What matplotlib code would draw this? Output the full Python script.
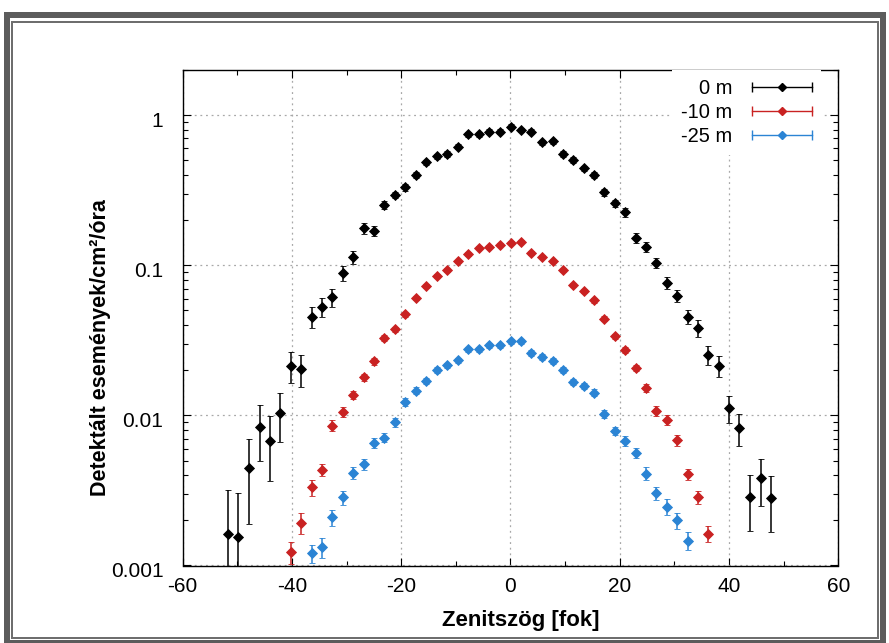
import matplotlib
matplotlib.use("Agg")
import matplotlib.pyplot as plt
import matplotlib.transforms as mtransforms
from matplotlib.lines import Line2D
from matplotlib.legend_handler import HandlerBase
from matplotlib.patches import Rectangle
from matplotlib.ticker import FixedLocator, FixedFormatter, LogLocator, NullFormatter

plt.rcParams['font.family'] = ['Liberation Sans', 'DejaVu Sans']

# Zenith-angle bin centres [deg], shared by the three depths
angle = [-51.7, -49.8, -47.9, -45.9, -44.0, -42.1, -40.2, -38.3, -36.4, -34.5,
         -32.6, -30.7, -28.8, -26.9, -25.0, -23.1, -21.2, -19.3, -17.3, -15.4,
         -13.5, -11.6, -9.7, -7.8, -5.8, -3.9, -2.0, 0.1, 1.9, 3.8,
         5.7, 7.7, 9.6, 11.5, 13.4, 15.3, 17.2, 19.1, 21.0, 22.9,
         24.8, 26.7, 28.6, 30.5, 32.4, 34.3, 36.2, 38.1, 40.0, 41.9,
         43.8, 45.8, 47.7]

# 0 m (surface)
rate_0m = [0.00162, 0.00154, 0.00445, 0.0084, 0.00675, 0.0104, 0.0214, 0.0204, 0.0452, 0.0527,
           0.0614, 0.0886, 0.113, 0.176, 0.170, 0.253, 0.295, 0.330, 0.399, 0.484,
           0.531, 0.551, 0.616, 0.748, 0.748, 0.775, 0.775, 0.840, 0.795, 0.778,
           0.658, 0.668, 0.551, 0.502, 0.442, 0.399, 0.306, 0.259, 0.225, 0.152,
           0.133, 0.104, 0.0765, 0.0624, 0.0455, 0.0382, 0.0253, 0.0214, 0.0112, 0.00828,
           0.00285, 0.00381, 0.00281]
err_0m = [0.00157, 0.00152, 0.00255, 0.0034, 0.0031, 0.0037, 0.0050, 0.0050, 0.0072, 0.0078,
          0.0085, 0.0105, 0.011, 0.015, 0.013, 0.015, 0.015, 0.016, 0.018, 0.020,
          0.021, 0.022, 0.024, 0.027, 0.027, 0.028, 0.028, 0.029, 0.028, 0.028,
          0.025, 0.025, 0.022, 0.021, 0.019, 0.018, 0.016, 0.015, 0.014, 0.012,
          0.011, 0.0085, 0.0068, 0.0056, 0.0046, 0.0049, 0.0035, 0.0034, 0.0023, 0.0020,
          0.00116, 0.00130, 0.00115]

# -10 m (bins 6..46)
angle_10m = angle[6:47]
rate_10m = [0.00123, 0.00193, 0.00332, 0.00433, 0.00855, 0.0105, 0.0137, 0.0179, 0.0230, 0.0328,
            0.0374, 0.0472, 0.0605, 0.0727, 0.0847, 0.0934, 0.106, 0.119, 0.131, 0.133,
            0.137, 0.141, 0.144, 0.121, 0.114, 0.106, 0.0934, 0.0742, 0.0673, 0.0584,
            0.0442, 0.0336, 0.0272, 0.0208, 0.0153, 0.0107, 0.0093, 0.00682, 0.00407, 0.00285,
            0.00163]
err_10m = [0.0002, 0.0003, 0.0004, 0.0004, 0.0007, 0.0008, 0.0009, 0.0010, 0.0012, 0.0014,
           0.0015, 0.0017, 0.0020, 0.0022, 0.0024, 0.0026, 0.0028, 0.0030, 0.0031, 0.0031,
           0.0032, 0.0032, 0.0033, 0.0030, 0.0029, 0.0028, 0.0026, 0.0022, 0.0021, 0.0019,
           0.0016, 0.0014, 0.0012, 0.0010, 0.0009, 0.0008, 0.0007, 0.0006, 0.00035, 0.0003,
           0.0002]

# -25 m (bins 8..44)
angle_25m = angle[8:45]
rate_25m = [0.00121, 0.00132, 0.00210, 0.00284, 0.00416, 0.00476, 0.00657, 0.00711, 0.00898, 0.0123,
            0.0146, 0.0169, 0.0200, 0.0216, 0.0233, 0.0276, 0.0276, 0.0293, 0.0293, 0.0312,
            0.0312, 0.0261, 0.0245, 0.0230, 0.0202, 0.0167, 0.0157, 0.0142, 0.0102, 0.00787,
            0.00675, 0.00564, 0.00410, 0.00303, 0.00247, 0.00200, 0.00146]
err_25m = [0.00017, 0.0002, 0.00026, 0.0003, 0.0004, 0.0004, 0.0005, 0.0005, 0.0006, 0.0007,
           0.0008, 0.0008, 0.0009, 0.0009, 0.0010, 0.0011, 0.0011, 0.0011, 0.0011, 0.0012,
           0.0012, 0.0011, 0.0010, 0.0010, 0.0009, 0.0008, 0.0008, 0.0007, 0.0006, 0.0005,
           0.0005, 0.0004, 0.0004, 0.0003, 0.0003, 0.00025, 0.0002]

depth_labels = ['0 m', '-10 m', '-25 m']
depth_colors = ['#000000', '#c92222', '#2b84d4']

x_ticks = [-60, -40, -20, 0, 20, 40, 60]
x_tick_labels = ['-60', '-40', '-20', '0', '20', '40', '60']
y_ticks = [0.001, 0.01, 0.1, 1]
y_tick_labels = ['0.001', '0.01', '0.1', '1']

W, H = 889, 643
fig = plt.figure(figsize=(W / 100, H / 100), dpi=100)
ax = fig.add_axes([182.7 / W, 1 - 565.5 / H, (838.3 - 182.7) / W, (565.5 - 70) / H])

series = [(angle, rate_0m, err_0m), (angle_10m, rate_10m, err_10m), (angle_25m, rate_25m, err_25m)]
for (xs, ys, es), col in zip(series, depth_colors):
    ax.errorbar(xs, ys, yerr=es, fmt='D', ms=5.0, color=col, ecolor=col,
                elinewidth=1.1, capsize=2.5, capthick=1.1, mew=0.6, zorder=3)

ax.set_yscale('log')
ax.set_xlim(-60, 60)
ax.set_ylim(1e-3, 2)

ax.xaxis.set_major_locator(FixedLocator(x_ticks))
ax.xaxis.set_major_formatter(FixedFormatter(x_tick_labels))
ax.xaxis.set_minor_locator(FixedLocator([-50, -30, -10, 10, 30, 50]))
ax.yaxis.set_major_locator(FixedLocator(y_ticks))
ax.yaxis.set_major_formatter(FixedFormatter(y_tick_labels))
ax.yaxis.set_minor_locator(LogLocator(base=10, subs=range(2, 10)))
ax.yaxis.set_minor_formatter(NullFormatter())

ax.set_axisbelow(True)
ax.grid(True, which='major', color='#a8a8a8', linestyle=(0, (1.5, 3)), linewidth=0.9)

ax.tick_params(which='both', direction='in', top=True, right=True, width=0.8, colors='black')
ax.tick_params(which='major', length=6, labelsize=15)
ax.tick_params(which='minor', length=3.5)
ax.tick_params(axis='x', which='major', pad=8)
ax.tick_params(axis='y', which='major', pad=14)
for sp in ax.spines.values():
    sp.set_linewidth(1.0)

# nudge y tick labels slightly below their tick
shift = mtransforms.ScaledTranslation(0, -0.04, fig.dpi_scale_trans)
for lab in ax.get_yticklabels():
    lab.set_transform(lab.get_transform() + shift)

ax.set_xlabel('Zenitszög [fok]', fontsize=16, fontweight='bold')
ax.xaxis.set_label_coords(0.516, -0.090)
ax.set_ylabel('Detektált események/cm²/óra', fontsize=15.5, fontweight='bold', va='center')
ax.yaxis.set_label_coords(-0.126, 0.44)


class HorizontalErrorKey(HandlerBase):
    """Key sample: horizontal bar with end caps and a diamond in the middle."""

    def create_artists(self, legend, orig_handle, xdescent, ydescent, width, height,
                       fontsize, trans):
        col = orig_handle.get_color()
        yc = (height - ydescent) / 2
        x0, x1 = -xdescent, width - xdescent
        bar = Line2D([x0, x1], [yc, yc], color=col, lw=1.0)
        caps = Line2D([x0, x1], [yc, yc], ls='none', marker='|', ms=7, mew=1.0, color=col)
        mark = Line2D([(x0 + x1) / 2], [yc], ls='none', marker='D', ms=4, color=col)
        for art in (bar, caps, mark):
            art.set_transform(trans)
        return [bar, caps, mark]


key_handles = [Line2D([], [], color=c) for c in depth_colors]
ax.legend(key_handles, depth_labels, handler_map={Line2D: HorizontalErrorKey()},
          loc='upper right', bbox_to_anchor=(0.974, 1.0), markerfirst=False, fontsize=14.5,
          frameon=True, facecolor='white', edgecolor='none', framealpha=1, fancybox=False,
          handlelength=3.0, handletextpad=0.95, labelspacing=0.25, borderpad=0.45,
          borderaxespad=0)

# picture frame around the figure
def frame_rect(x0, y0, x1, y1, lw_px, color):
    fig.add_artist(Rectangle((x0 / W, 1 - y1 / H), (x1 - x0) / W, (y1 - y0) / H,
                             transform=fig.transFigure, fill=False, lw=lw_px * 0.72,
                             ec=color, zorder=10))

frame_rect(7, 15, 883, 643, 6, '#5c5c5c')
frame_rect(11.5, 22, 877.5, 637.5, 2, '#6e6e6e')

fig.savefig('out.png', dpi=100)
